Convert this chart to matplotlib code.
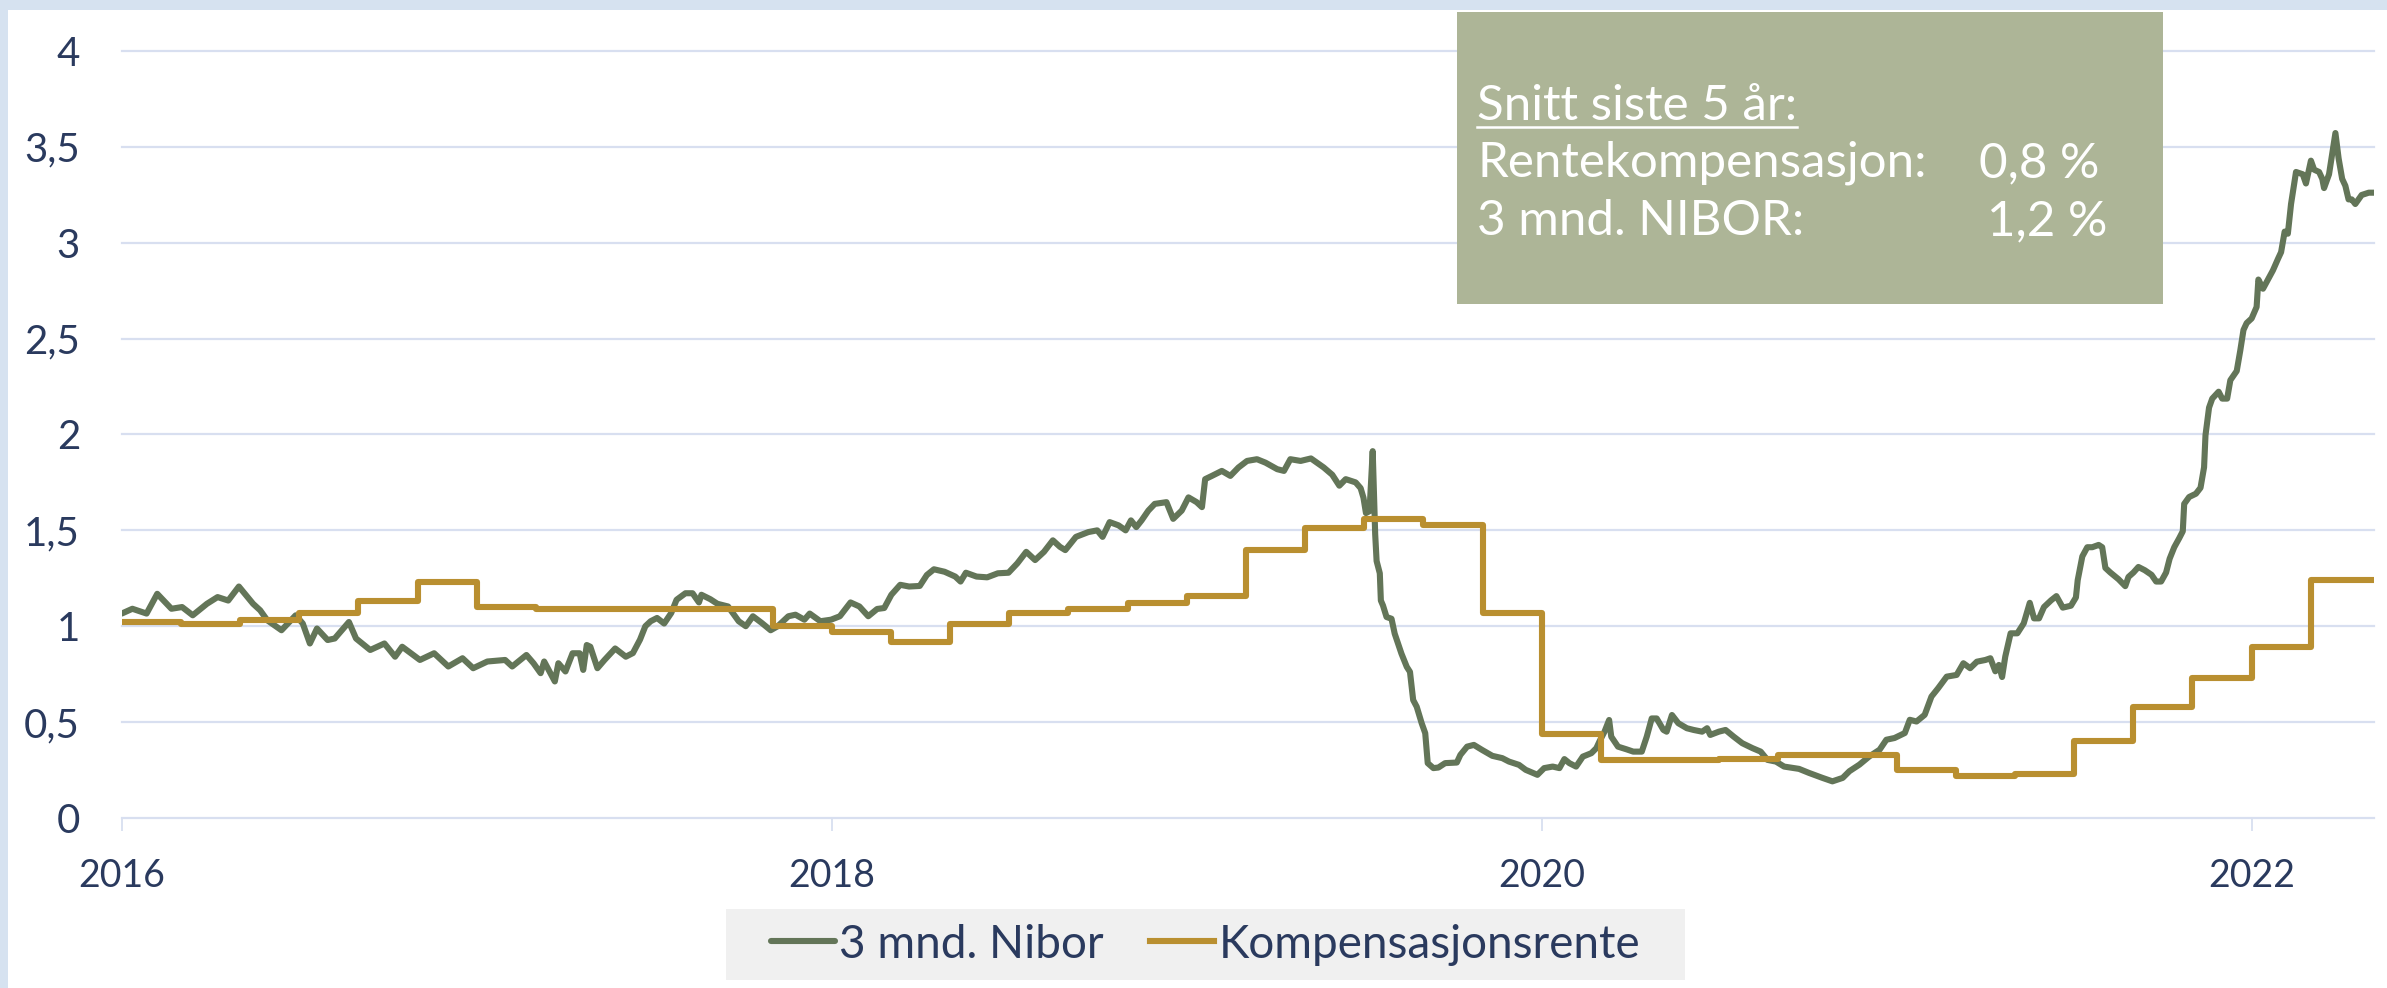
import matplotlib
matplotlib.use("Agg")
import numpy as np
import matplotlib.pyplot as plt
from matplotlib.patches import Rectangle
from matplotlib.lines import Line2D
from matplotlib.ticker import FuncFormatter

plt.rcParams['font.family'] = ['Lato', 'DejaVu Sans']

navy = '#2a3a5e'
green = '#637558'
gold = '#b98f30'
gridc = '#d8dff0'
band = '#d6e2f0'
boxc = '#adb597'

# 3 mnd. Nibor (time in decimal years, value in percent)
nibor_t = [
    2016.00, 2016.03, 2016.07, 2016.10, 2016.14, 2016.17, 2016.20, 2016.24, 2016.27, 2016.30,
    2016.33, 2016.37, 2016.39, 2016.41, 2016.45, 2016.49, 2016.51, 2016.53, 2016.55, 2016.58,
    2016.60, 2016.64, 2016.66, 2016.70, 2016.74, 2016.77, 2016.79, 2016.84, 2016.88, 2016.92,
    2016.96, 2016.99, 2017.03, 2017.08, 2017.10, 2017.14, 2017.16, 2017.18, 2017.19, 2017.22,
    2017.23, 2017.25, 2017.27, 2017.29, 2017.30, 2017.31, 2017.32, 2017.34, 2017.36, 2017.39,
    2017.42, 2017.44, 2017.46, 2017.475, 2017.49, 2017.508, 2017.528, 2017.548, 2017.563, 2017.588,
    2017.608, 2017.626, 2017.633, 2017.658, 2017.678, 2017.708, 2017.738, 2017.758, 2017.778, 2017.803,
    2017.828, 2017.848, 2017.878, 2017.898, 2017.923, 2017.938, 2017.968, 2017.998, 2018.023, 2018.053,
    2018.078, 2018.103, 2018.128, 2018.148, 2018.168, 2018.193, 2018.218, 2018.248, 2018.268, 2018.288,
    2018.318, 2018.348, 2018.363, 2018.378, 2018.408, 2018.438, 2018.468, 2018.498, 2018.523, 2018.548,
    2018.573, 2018.598, 2018.623, 2018.643, 2018.658, 2018.688, 2018.723, 2018.748, 2018.763, 2018.783,
    2018.808, 2018.828, 2018.843, 2018.858, 2018.873, 2018.892, 2018.910, 2018.943, 2018.962, 2018.986,
    2019.005, 2019.028, 2019.043, 2019.052, 2019.071, 2019.099, 2019.123, 2019.146, 2019.170, 2019.198,
    2019.222, 2019.255, 2019.274, 2019.292, 2019.321, 2019.350, 2019.386, 2019.410, 2019.430, 2019.448,
    2019.476, 2019.490, 2019.498, 2019.505, 2019.515, 2019.524, 2019.531, 2019.535, 2019.544, 2019.547,
    2019.553, 2019.563, 2019.577, 2019.586, 2019.605, 2019.620, 2019.629, 2019.638, 2019.648, 2019.662,
    2019.672, 2019.679, 2019.695, 2019.709, 2019.728, 2019.761, 2019.771, 2019.790, 2019.809, 2019.832,
    2019.861, 2019.889, 2019.908, 2019.936, 2019.955, 2019.988, 2020.007, 2020.031, 2020.050, 2020.064,
    2020.078, 2020.097, 2020.116, 2020.140, 2020.154, 2020.163, 2020.177, 2020.190, 2020.196, 2020.215,
    2020.239, 2020.258, 2020.282, 2020.296, 2020.310, 2020.324, 2020.343, 2020.352, 2020.367, 2020.385,
    2020.409, 2020.428, 2020.452, 2020.466, 2020.475, 2020.499, 2020.518, 2020.541, 2020.565, 2020.594,
    2020.617, 2020.636, 2020.660, 2020.683, 2020.712, 2020.725, 2020.753, 2020.791, 2020.819, 2020.848,
    2020.867, 2020.895, 2020.923, 2020.952, 2020.971, 2020.994, 2021.023, 2021.037, 2021.056, 2021.079,
    2021.098, 2021.117, 2021.141, 2021.169, 2021.188, 2021.207, 2021.226, 2021.250, 2021.264, 2021.278,
    2021.288, 2021.297, 2021.306, 2021.321, 2021.340, 2021.358, 2021.375, 2021.387, 2021.401, 2021.415,
    2021.435, 2021.450, 2021.468, 2021.491, 2021.505, 2021.510, 2021.523, 2021.537, 2021.551, 2021.569,
    2021.579, 2021.588, 2021.602, 2021.625, 2021.644, 2021.653, 2021.667, 2021.681, 2021.699, 2021.718,
    2021.731, 2021.745, 2021.759, 2021.769, 2021.782, 2021.796, 2021.806, 2021.810, 2021.824, 2021.843,
    2021.856, 2021.866, 2021.870, 2021.875, 2021.880, 2021.889, 2021.907, 2021.917, 2021.931, 2021.940,
    2021.958, 2021.968, 2021.977, 2021.986, 2022.000, 2022.014, 2022.019, 2022.032, 2022.046, 2022.060,
    2022.074, 2022.083, 2022.093, 2022.102, 2022.111, 2022.120, 2022.125, 2022.144, 2022.153, 2022.167,
    2022.176, 2022.190, 2022.199, 2022.204, 2022.218, 2022.227, 2022.236, 2022.245, 2022.255, 2022.264,
    2022.273, 2022.282, 2022.292, 2022.310, 2022.330, 2022.345,
]
nibor_v = [
    1.066, 1.091, 1.066, 1.169, 1.091, 1.100, 1.057, 1.117, 1.152, 1.134,
    1.207, 1.117, 1.083, 1.031, 0.979, 1.057, 1.014, 0.910, 0.988, 0.928,
    0.936, 1.022, 0.936, 0.876, 0.910, 0.841, 0.893, 0.824, 0.859, 0.790,
    0.833, 0.781, 0.816, 0.824, 0.790, 0.850, 0.807, 0.755, 0.816, 0.712,
    0.807, 0.764, 0.859, 0.859, 0.772, 0.902, 0.893, 0.781, 0.824, 0.884,
    0.841, 0.860, 0.930, 1.000, 1.026, 1.043, 1.014, 1.069, 1.138, 1.172,
    1.172, 1.124, 1.164, 1.141, 1.117, 1.103, 1.026, 1.000, 1.052, 1.017,
    0.979, 1.000, 1.052, 1.060, 1.034, 1.066, 1.026, 1.034, 1.052, 1.124,
    1.103, 1.052, 1.090, 1.095, 1.164, 1.216, 1.207, 1.210, 1.267, 1.297,
    1.284, 1.259, 1.233, 1.279, 1.259, 1.255, 1.276, 1.279, 1.328, 1.388,
    1.345, 1.388, 1.448, 1.414, 1.397, 1.466, 1.491, 1.500, 1.466, 1.543,
    1.526, 1.500, 1.552, 1.517, 1.552, 1.603, 1.638, 1.647, 1.560, 1.603,
    1.672, 1.647, 1.621, 1.767, 1.784, 1.810, 1.784, 1.828, 1.862, 1.871,
    1.853, 1.819, 1.810, 1.871, 1.862, 1.875, 1.828, 1.790, 1.733, 1.767,
    1.750, 1.720, 1.670, 1.590, 1.600, 1.913, 1.480, 1.340, 1.276, 1.134,
    1.108, 1.048, 1.039, 0.961, 0.857, 0.788, 0.762, 0.615, 0.580, 0.494,
    0.442, 0.286, 0.260, 0.263, 0.286, 0.289, 0.329, 0.372, 0.381, 0.355,
    0.324, 0.312, 0.294, 0.277, 0.251, 0.225, 0.260, 0.268, 0.260, 0.307,
    0.286, 0.268, 0.320, 0.338, 0.364, 0.400, 0.450, 0.511, 0.424, 0.372,
    0.358, 0.346, 0.346, 0.424, 0.519, 0.519, 0.459, 0.450, 0.537, 0.494,
    0.468, 0.459, 0.450, 0.468, 0.433, 0.450, 0.459, 0.424, 0.390, 0.364,
    0.346, 0.303, 0.294, 0.268, 0.260, 0.256, 0.235, 0.209, 0.191, 0.209,
    0.244, 0.278, 0.321, 0.356, 0.408, 0.417, 0.443, 0.512, 0.503, 0.538,
    0.633, 0.677, 0.737, 0.746, 0.807, 0.781, 0.815, 0.824, 0.833, 0.765,
    0.798, 0.735, 0.842, 0.963, 0.963, 1.015, 1.122, 1.041, 1.041, 1.100,
    1.135, 1.157, 1.097, 1.107, 1.150, 1.240, 1.364, 1.412, 1.412, 1.424,
    1.412, 1.304, 1.280, 1.245, 1.209, 1.257, 1.280, 1.309, 1.292, 1.268,
    1.233, 1.233, 1.280, 1.352, 1.412, 1.459, 1.495, 1.638, 1.674, 1.691,
    1.722, 1.829, 1.996, 2.068, 2.140, 2.187, 2.223, 2.187, 2.187, 2.283,
    2.331, 2.438, 2.545, 2.581, 2.605, 2.665, 2.808, 2.760, 2.808, 2.856,
    2.915, 2.951, 3.058, 3.047, 3.202, 3.309, 3.369, 3.357, 3.309, 3.428,
    3.381, 3.369, 3.333, 3.285, 3.357, 3.464, 3.572, 3.440, 3.333, 3.297,
    3.226, 3.226, 3.202, 3.249, 3.261, 3.261,
]

# Kompensasjonsrente, one value per two-month period (period start)
komp_periods = [
    '2016-01', '2016-03', '2016-05', '2016-07', '2016-09', '2016-11',
    '2017-01', '2017-03', '2017-05', '2017-07', '2017-09', '2017-11',
    '2018-01', '2018-03', '2018-05', '2018-07', '2018-09', '2018-11',
    '2019-01', '2019-03', '2019-05', '2019-07', '2019-09', '2019-11',
    '2020-01', '2020-03', '2020-05', '2020-07', '2020-09', '2020-11',
    '2021-01', '2021-03', '2021-05', '2021-07', '2021-09', '2021-11',
    '2022-01', '2022-03',
]
komp_v = [
    1.02, 1.01, 1.03, 1.07, 1.13, 1.23,
    1.10, 1.09, 1.09, 1.09, 1.09, 1.00,
    0.97, 0.92, 1.01, 1.07, 1.09, 1.12,
    1.16, 1.40, 1.51, 1.56, 1.53, 1.07,
    0.44, 0.30, 0.30, 0.31, 0.33, 0.33,
    0.25, 0.22, 0.23, 0.40, 0.58, 0.73,
    0.89, 1.24,
]
x_end = 2022.345

komp_t = [int(p[:4]) + (int(p[5:]) - 1) / 12 for p in komp_periods] + [x_end]
komp_y = komp_v + [komp_v[-1]]

year_ticks = [2016, 2018, 2020, 2022]

fig = plt.figure(figsize=(23.87, 9.88), dpi=100)
ax = fig.add_axes([0.0510, 0.1721, 0.9436, 0.7763])

ax.plot(nibor_t, nibor_v, color=green, lw=4.4, solid_joinstyle='round',
        solid_capstyle='round', label='3 mnd. Nibor', zorder=3)
ax.step(komp_t, komp_y, where='post', color=gold, lw=4.4,
        label='Kompensasjonsrente', zorder=4)

ax.set_xlim(2016, x_end)
ax.set_ylim(0, 4)
ax.set_yticks(np.arange(0, 4.01, 0.5))
ax.yaxis.set_major_formatter(FuncFormatter(lambda v, p: f'{v:g}'.replace('.', ',')))
ax.set_xticks(year_ticks)
ax.set_xticklabels([str(y) for y in year_ticks])

ax.grid(axis='y', color=gridc, lw=1.6)
ax.grid(axis='x', visible=False)
for gl in ax.yaxis.get_gridlines():
    gl.set_clip_on(False)
ax.set_axisbelow(True)
for s in ax.spines.values():
    s.set_visible(False)

ax.tick_params(axis='y', length=0, pad=30, labelsize=29, labelcolor=navy)
ax.tick_params(axis='x', length=9, width=1.3, color=gridc, pad=20,
               labelsize=27, labelcolor=navy)

# blue frame strips at the top and left
fig.add_artist(Rectangle((0, 1 - 10 / 988), 1, 10 / 988, transform=fig.transFigure,
                         facecolor=band, edgecolor='none', zorder=10))
fig.add_artist(Rectangle((0, 0), 8 / 2387, 1, transform=fig.transFigure,
                         facecolor=band, edgecolor='none', zorder=10))

# info box
fig.add_artist(Rectangle((0.6104, 0.6923), 0.2958, 0.2956, transform=fig.transFigure,
                         facecolor=boxc, edgecolor='none', zorder=5))
tkw = dict(color='white', fontsize=35.5, va='baseline', zorder=6)
head = fig.text(0.6188, 0.8785, 'Snitt siste 5 år:', **tkw)
fig.text(0.6188, 0.8209, 'Rentekompensasjon:', **tkw)
fig.text(0.6188, 0.7621, '3 mnd. NIBOR:', **tkw)
fig.text(0.8290, 0.8209, '0,8 %', **tkw)
fig.text(0.8325, 0.7621, '1,2 %', **tkw)

# legend
fig.add_artist(Rectangle((0.304, 0.0081), 0.402, 0.0719, transform=fig.transFigure,
                         facecolor='#f0f0f0', edgecolor='none', zorder=1))
fig.legend(loc='center', bbox_to_anchor=(0.505, 0.044), ncol=2, frameon=False,
           fontsize=33, handlelength=1.4, handletextpad=0.1, columnspacing=1.0,
           labelcolor=navy)

fig.canvas.draw()
bb = head.get_window_extent().transformed(fig.transFigure.inverted())
fig.add_artist(Line2D([bb.x0, bb.x1], [0.8785 - 0.007, 0.8785 - 0.007],
                      transform=fig.transFigure, color='white', lw=1.8, zorder=6))

fig.savefig('out.png', dpi=100)
